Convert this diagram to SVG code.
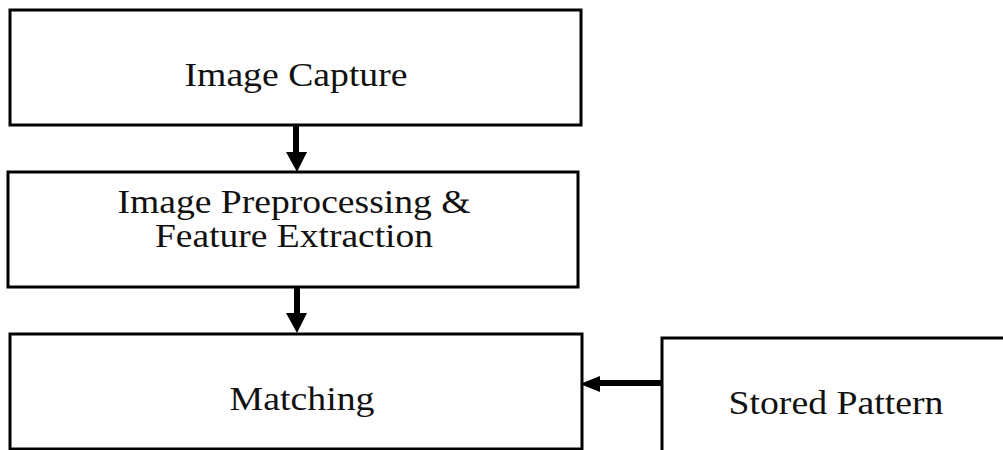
<svg xmlns="http://www.w3.org/2000/svg" width="1003" height="450" viewBox="0 0 1003 450">
<style>
.box{fill:#fff;stroke:#000;stroke-width:3}
.lbl{font-family:'Liberation Serif','Times New Roman',serif;font-size:34px;fill:#111;text-anchor:middle}
.conn{stroke:#000;stroke-width:6;fill:none}
.head{fill:#000}
</style>
<rect width="1003" height="450" fill="#fff"/>
<g id="image-capture">
<rect class="box" x="10" y="10" width="571" height="115"/>
<text class="lbl" x="296" y="86" textLength="223" lengthAdjust="spacingAndGlyphs">Image Capture</text>
</g>
<g id="preprocessing">
<rect class="box" x="8" y="172" width="570" height="115"/>
<text class="lbl" x="294" y="213" textLength="353" lengthAdjust="spacingAndGlyphs">Image Preprocessing &amp;</text>
<text class="lbl" x="294" y="247" textLength="278" lengthAdjust="spacingAndGlyphs">Feature Extraction</text>
</g>
<g id="matching">
<rect class="box" x="10" y="334" width="572" height="115"/>
<text class="lbl" x="302" y="410" textLength="145" lengthAdjust="spacingAndGlyphs">Matching</text>
</g>
<g id="stored-pattern">
<rect class="box" x="662" y="338" width="360" height="130"/>
<text class="lbl" x="836" y="414" textLength="215" lengthAdjust="spacingAndGlyphs">Stored Pattern</text>
</g>
<g id="connectors">
<line class="conn" x1="296" y1="126" x2="296" y2="153"/>
<polygon class="head" points="286,152 307,152 297,172"/>
<line class="conn" x1="297" y1="288" x2="297" y2="314"/>
<polygon class="head" points="286,313 307,313 297,333"/>
<line class="conn" x1="661" y1="383" x2="598" y2="383"/>
<polygon class="head" points="600,376 600,392 580,384"/>
</g>
</svg>
